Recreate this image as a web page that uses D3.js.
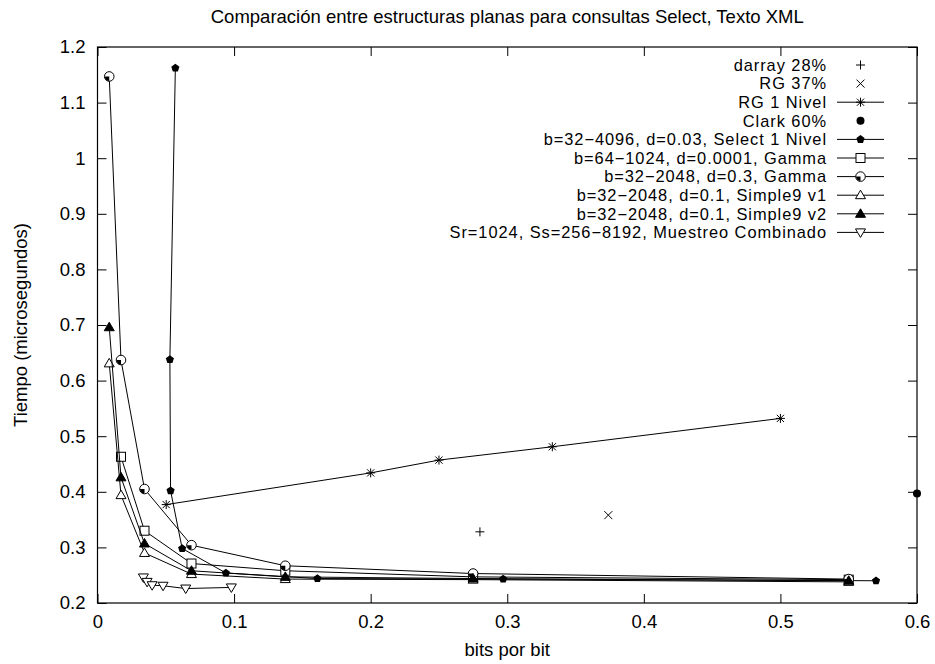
<!DOCTYPE html>
<html>
<head>
<meta charset="utf-8">
<script src="https://cdn.jsdelivr.net/npm/d3@7"></script>
<style>
body { margin: 0; background: #fff; }
#diagram1 { width: 935px; height: 664px; }
text { font-family: "Liberation Sans", Arial, sans-serif; fill: #000; }
</style>
</head>
<body>
<div id="diagram1"></div>
<script>
// Данные
var TITLE = 'Comparación entre estructuras planas para consultas Select, Texto XML';
var X_LABEL = 'bits por bit';
var Y_LABEL = 'Tiempo (microsegundos)';

var xTicks = [0, 0.1, 0.2, 0.3, 0.4, 0.5, 0.6];
var xTickLabels = ['0', '0.1', '0.2', '0.3', '0.4', '0.5', '0.6'];
var yTicks = [0.2, 0.3, 0.4, 0.5, 0.6, 0.7, 0.8, 0.9, 1.0, 1.1, 1.2];
var yTickLabels = ['0.2', '0.3', '0.4', '0.5', '0.6', '0.7', '0.8', '0.9', '1', '1.1', '1.2'];

var seriesNames = [
	'darray 28%',
	'RG 37%',
	'RG 1 Nivel',
	'Clark 60%',
	'b=32\u22124096, d=0.03, Select 1 Nivel',
	'b=64\u22121024, d=0.0001, Gamma',
	'b=32\u22122048, d=0.3, Gamma',
	'b=32\u22122048, d=0.1, Simple9 v1',
	'b=32\u22122048, d=0.1, Simple9 v2',
	'Sr=1024, Ss=256\u22128192, Muestreo Combinado'
];

var darrayX = [0.28], darrayY = [0.328];
var rg37X = [0.374], rg37Y = [0.358];
var rg1X = [0.0503, 0.2, 0.25, 0.333, 0.5];
var rg1Y = [0.377, 0.434, 0.457, 0.481, 0.532];
var clarkX = [0.6], clarkY = [0.397];
var selectX = [0.057, 0.053, 0.0535, 0.062, 0.094, 0.161, 0.297, 0.57];
var selectY = [1.162, 0.638, 0.402, 0.298, 0.254, 0.244, 0.243, 0.240];
var gamma64X = [0.0172, 0.0344, 0.0688, 0.1375, 0.275, 0.55];
var gamma64Y = [0.463, 0.330, 0.271, 0.258, 0.247, 0.242];
var gamma32X = [0.0086, 0.0172, 0.0344, 0.0688, 0.1375, 0.275, 0.55];
var gamma32Y = [1.147, 0.637, 0.405, 0.304, 0.267, 0.253, 0.243];
var s9v1X = [0.0086, 0.0172, 0.0344, 0.0688, 0.1375, 0.275, 0.55];
var s9v1Y = [0.631, 0.394, 0.290, 0.252, 0.243, 0.242, 0.238];
var s9v2X = [0.0086, 0.0172, 0.0344, 0.0688, 0.1375, 0.275, 0.55];
var s9v2Y = [0.696, 0.426, 0.307, 0.258, 0.247, 0.244, 0.240];
var muestreoX = [0.0336, 0.0363, 0.04, 0.048, 0.0646, 0.098];
var muestreoY = [0.246, 0.238, 0.232, 0.231, 0.226, 0.228];

// Маркеры в стиле gnuplot
function marker(g, type) {
	var r = 4.5;
	if (type == 'plus') {
		g.append('path').attr('d', 'M' + (-r) + ',0H' + r + 'M0,' + (-r) + 'V' + r)
		.attr('stroke', '#000').attr('fill', 'none');
	} else if (type == 'cross') {
		r = 4;
		g.append('path').attr('d', 'M' + (-r) + ',' + (-r) + 'L' + r + ',' + r + 'M' + (-r) + ',' + r + 'L' + r + ',' + (-r))
		.attr('stroke', '#000').attr('fill', 'none');
	} else if (type == 'star') {
		g.append('path').attr('d', 'M' + (-r) + ',0H' + r + 'M0,' + (-r) + 'V' + r +
			'M' + (-r * 0.8) + ',' + (-r * 0.8) + 'L' + (r * 0.8) + ',' + (r * 0.8) +
			'M' + (-r * 0.8) + ',' + (r * 0.8) + 'L' + (r * 0.8) + ',' + (-r * 0.8))
		.attr('stroke', '#000').attr('fill', 'none');
	} else if (type == 'dot') {
		g.append('circle').attr('r', 4).attr('fill', '#000');
	} else if (type == 'pentagon') {
		var pts = d3.range(5).map(function(i) {
			var a = -Math.PI / 2 + i * 2 * Math.PI / 5;
			return [4.3 * Math.cos(a), 4.3 * Math.sin(a)];
		});
		g.append('path').attr('d', 'M' + pts.join('L') + 'Z').attr('fill', '#000');
	} else if (type == 'square') {
		g.append('rect').attr('x', -4.5).attr('y', -4.5).attr('width', 9).attr('height', 9)
		.attr('fill', '#fff').attr('stroke', '#000');
	} else if (type == 'halfcircle') {
		g.append('circle').attr('r', 4.8).attr('fill', '#fff').attr('stroke', '#000');
		g.append('path').attr('d', d3.arc().innerRadius(0).outerRadius(4.5).startAngle(Math.PI).endAngle(Math.PI * 1.5)())
		.attr('fill', '#000');
	} else if (type == 'tri' || type == 'trifill') {
		g.append('path').attr('d', 'M0,-5L5,3.5L-5,3.5Z')
		.attr('fill', type == 'tri' ? '#fff' : '#000').attr('stroke', '#000');
	} else if (type == 'tridown') {
		g.append('path').attr('d', 'M0,5L5,-3.5L-5,-3.5Z')
		.attr('fill', '#fff').attr('stroke', '#000');
	}
}

var series = [
	{ name: seriesNames[0], x: darrayX, y: darrayY, line: false, mark: 'plus' },
	{ name: seriesNames[1], x: rg37X, y: rg37Y, line: false, mark: 'cross' },
	{ name: seriesNames[2], x: rg1X, y: rg1Y, line: true, mark: 'star' },
	{ name: seriesNames[3], x: clarkX, y: clarkY, line: false, mark: 'dot' },
	{ name: seriesNames[4], x: selectX, y: selectY, line: true, mark: 'pentagon' },
	{ name: seriesNames[5], x: gamma64X, y: gamma64Y, line: true, mark: 'square' },
	{ name: seriesNames[6], x: gamma32X, y: gamma32Y, line: true, mark: 'halfcircle' },
	{ name: seriesNames[7], x: s9v1X, y: s9v1Y, line: true, mark: 'tri' },
	{ name: seriesNames[8], x: s9v2X, y: s9v2Y, line: true, mark: 'trifill' },
	{ name: seriesNames[9], x: muestreoX, y: muestreoY, line: true, mark: 'tridown' }
];

var
CHART_WIDTH = 935,
CHART_HEIGHT = 664,
margin = {top: 47, right: 18, bottom: 61, left: 97.5},
width = CHART_WIDTH - margin.left - margin.right,
height = CHART_HEIGHT - margin.top - margin.bottom,
TICK = 9,
FONT = 18.5,
LEG_FONT = 16.4; // строки легенды стоят плотно, шрифт чуть меньше

var svg = d3
.select('#diagram1')
.append('svg')
.attr('width', CHART_WIDTH)
.attr('height', CHART_HEIGHT)
;

var x = d3.scaleLinear().domain([0, 0.6]).range([0, width]);
var y = d3.scaleLinear().domain([0.2, 1.2]).range([height, 0]);

var g = svg.append('g').attr('transform', 'translate(' + margin.left + ',' + margin.top + ')');

// Оси: тики внутрь, с зеркальными тиками сверху и справа
function styleAxis(sel) {
	sel.select('.domain').remove();
	sel.selectAll('line').attr('stroke', '#000');
	sel.selectAll('text').attr('font-size', FONT).attr('font-family', '"Liberation Sans", Arial, sans-serif');
}
g.append('g')
.attr('transform', 'translate(0,' + height + ')')
.call(d3.axisBottom(x).tickValues(xTicks).tickSizeInner(-TICK).tickSizeOuter(0).tickPadding(12)
	.tickFormat(function(d, i) { return xTickLabels[i]; }))
.call(styleAxis);
g.append('g')
.call(d3.axisTop(x).tickValues(xTicks).tickSizeInner(-TICK).tickSizeOuter(0).tickFormat(''))
.call(styleAxis);
g.append('g')
.call(d3.axisLeft(y).tickValues(yTicks).tickSizeInner(-TICK).tickSizeOuter(0).tickPadding(12)
	.tickFormat(function(d, i) { return yTickLabels[i]; }))
.call(styleAxis);
g.append('g')
.attr('transform', 'translate(' + width + ',0)')
.call(d3.axisRight(y).tickValues(yTicks).tickSizeInner(-TICK).tickSizeOuter(0).tickFormat(''))
.call(styleAxis);

g.append('rect')
.attr('width', width)
.attr('height', height)
.attr('fill', 'none')
.attr('stroke', '#000')
.attr('stroke-width', 1.2);

// Линии и точки
var line = d3.line()
.x(function(d) { return x(d[0]); })
.y(function(d) { return y(d[1]); });

series.forEach(function(s) {
	var pts = s.x.map(function(v, i) { return [v, s.y[i]]; });
	if (s.line) {
		g.append('path')
		.datum(pts)
		.attr('fill', 'none')
		.attr('stroke', '#000')
		.attr('stroke-width', 1)
		.attr('d', line);
	}
	pts.forEach(function(p) {
		var m = g.append('g').attr('transform', 'translate(' + x(p[0]) + ',' + y(p[1]) + ')');
		marker(m, s.mark);
	});
});

// Легенда
var LEG_X = 827, LEG_Y = 65, LEG_STEP = 18.6;
var legend = svg.append('g').attr('class', 'legend');
series.forEach(function(s, i) {
	var ly = LEG_Y + i * LEG_STEP;
	legend.append('text')
	.attr('x', LEG_X)
	.attr('y', ly)
	.attr('dy', '0.35em')
	.attr('text-anchor', 'end')
	.attr('font-size', LEG_FONT)
	.attr('letter-spacing', '0.95px')
	.text(s.name);
	if (s.line) {
		legend.append('line')
		.attr('x1', LEG_X + 10).attr('x2', LEG_X + 57)
		.attr('y1', ly).attr('y2', ly)
		.attr('stroke', '#000');
	}
	var m = legend.append('g').attr('transform', 'translate(' + (LEG_X + 33.5) + ',' + ly + ')');
	marker(m, s.mark);
});

// Заголовок и подписи осей
svg.append('text')
.attr('x', margin.left + width / 2)
.attr('y', 23)
.attr('text-anchor', 'middle')
.attr('font-size', FONT)
.text(TITLE);

svg.append('text')
.attr('x', margin.left + width / 2)
.attr('y', 656)
.attr('text-anchor', 'middle')
.attr('font-size', FONT)
.text(X_LABEL);

svg.append('text')
.attr('transform', 'translate(27,' + (margin.top + height / 2) + ') rotate(-90)')
.attr('text-anchor', 'middle')
.attr('font-size', FONT)
.text(Y_LABEL);
</script>
</body>
</html>
